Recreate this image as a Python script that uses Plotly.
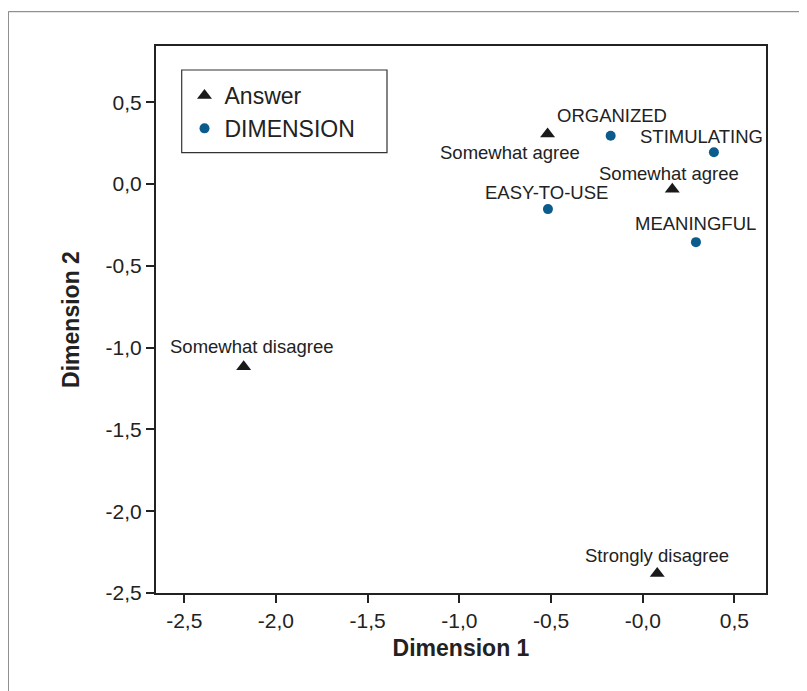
import plotly.graph_objects as go

# ---- data ----
answer_labels = ["Somewhat agree", "Somewhat agree", "Somewhat disagree", "Strongly disagree"]
answer_x = [-0.519, 0.161, -2.176, 0.079]
answer_y = [0.306, -0.031, -1.117, -2.381]

dim_labels = ["ORGANIZED", "STIMULATING", "EASY-TO-USE", "MEANINGFUL"]
dim_x = [-0.175, 0.388, -0.517, 0.290]
dim_y = [0.295, 0.194, -0.153, -0.355]

x_tickvals = [-2.5, -2.0, -1.5, -1.0, -0.5, 0.0, 0.5]
x_ticktext = ["-2,5", "-2,0", "-1,5", "-1,0", "-0,5", "-0,0", "0,5"]
y_tickvals = [0.5, 0.0, -0.5, -1.0, -1.5, -2.0, -2.5]
y_ticktext = ["0,5", "0,0", "-0,5", "-1,0", "-1,5", "-2,0", "-2,5"]

# label offsets in px (style)
answer_shift = [(-38, -18), (-3, 16), (8, 20), (0, 18)]
dim_shift = [(1, 20), (-12, 16), (-1, 17), (0, 19)]

FONT = "Liberation Sans"
DARK = "#222222"
BLUE = "#0b5b8c"

fig = go.Figure()
fig.add_trace(go.Scatter(
    x=answer_x, y=answer_y, mode="markers", name="Answer",
    marker=dict(symbol="triangle-up", size=13, color="#1a1a1a"),
    legendgroup="a"))
fig.add_trace(go.Scatter(
    x=dim_x, y=dim_y, mode="markers", name="DIMENSION",
    marker=dict(symbol="circle", size=10, color=BLUE),
    legendgroup="b"))

annos = []
for lab, xv, yv, (dx, dy) in zip(answer_labels, answer_x, answer_y, answer_shift):
    annos.append(dict(x=xv, y=yv, text=lab, showarrow=False, xshift=dx, yshift=dy,
                      xanchor="center", yanchor="middle",
                      font=dict(family=FONT, size=18.5, color=DARK)))
for lab, xv, yv, (dx, dy) in zip(dim_labels, dim_x, dim_y, dim_shift):
    annos.append(dict(x=xv, y=yv, text=lab, showarrow=False, xshift=dx, yshift=dy,
                      xanchor="center", yanchor="middle",
                      font=dict(family=FONT, size=18.5, color=DARK)))

shapes = [
    # outer frame
    dict(type="line", xref="paper", yref="paper", x0=-0.2421, x1=1.2, y0=1.0627, y1=1.0627,
         line=dict(color="#777777", width=1)),
    dict(type="line", xref="paper", yref="paper", x0=-0.2421, x1=-0.2421, y0=-0.3, y1=1.0627,
         line=dict(color="#777777", width=1)),
    # legend box
    dict(type="rect", xref="paper", yref="paper",
         x0=(181.7 - 156) / 610, x1=(387 - 156) / 610,
         y0=(593 - 152.7) / 547, y1=(593 - 70) / 547,
         line=dict(color="#333333", width=1.2), fillcolor="rgba(0,0,0,0)"),
]

axis_common = dict(
    showline=True, mirror=True, linecolor=DARK, linewidth=2,
    ticks="outside", ticklen=8, tickwidth=1.5, tickcolor=DARK,
    showgrid=False, zeroline=False,
    tickfont=dict(family=FONT, size=21, color=DARK),
)

# page body has an 8px margin, so the figure is 8px smaller and margins shifted
fig.update_layout(
    width=799, height=683,
    margin=dict(l=148, r=41, t=38, b=98),
    paper_bgcolor="white", plot_bgcolor="white",
    showlegend=True,
    legend=dict(x=(184.5 - 156) / 610, y=(593 - 74) / 547, xanchor="left", yanchor="top",
                bgcolor="rgba(0,0,0,0)", borderwidth=0, tracegroupgap=0,
                font=dict(family=FONT, size=23, color=DARK)),
    xaxis=dict(range=[-2.654, 0.672], tickvals=x_tickvals, ticktext=x_ticktext,
               title=dict(text="<b>Dimension 1</b>", standoff=9,
                          font=dict(family=FONT, size=23, color=DARK)),
               **axis_common),
    yaxis=dict(range=[-2.5, 0.844], tickvals=y_tickvals, ticktext=y_ticktext,
               title=dict(text="<b>Dimension 2</b>", standoff=20,
                          font=dict(family=FONT, size=23, color=DARK)),
               **axis_common),
    annotations=annos,
    shapes=shapes,
)

fig.write_html("out.html")
